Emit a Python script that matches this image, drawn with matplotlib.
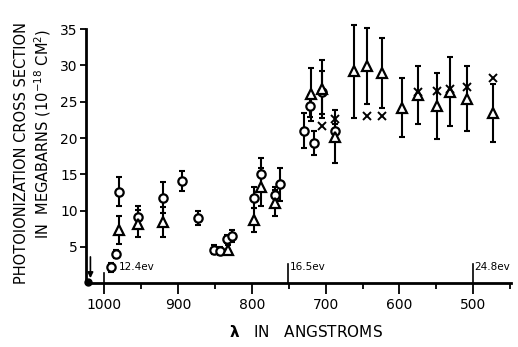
import matplotlib
matplotlib.use("Agg")
import matplotlib.pyplot as plt
from matplotlib.ticker import MultipleLocator

# Circles
circ_lam = [991, 984, 980, 955, 920, 895, 873, 852, 843, 834, 827, 797, 787, 769, 762, 729, 721, 716, 705, 687]
circ_sig = [2.2, 4.0, 12.6, 9.1, 11.8, 14.1, 9.0, 4.6, 4.45, 6.1, 6.5, 11.8, 15.1, 12.1, 13.6, 21.0, 24.4, 19.3, 26.3, 20.9]
circ_err = [0.6, 0.6, 2.0, 1.5, 2.1, 1.4, 1.0, 0.6, 0.6, 0.6, 0.8, 1.5, 2.1, 1.2, 2.3, 2.4, 1.5, 1.6, 3.0, 1.0]

# Triangles
tri_lam = [980, 955, 920, 833, 797, 787, 769, 720, 705, 687, 662, 644, 623, 597, 575, 549, 531, 508, 473]
tri_sig = [7.3, 8.2, 8.4, 4.6, 8.7, 13.2, 11.1, 26.0, 26.8, 20.2, 29.2, 29.9, 29.0, 24.2, 25.9, 24.4, 26.4, 25.4, 23.4]
tri_err = [1.9, 1.9, 2.1, 0.6, 1.7, 2.6, 1.8, 3.7, 4.0, 3.6, 6.4, 5.2, 4.8, 4.0, 4.0, 4.5, 4.7, 4.5, 4.0]

# Crosses
x_lam = [705, 688, 644, 623, 575, 549, 531, 508, 473]
x_sig = [21.7, 22.6, 23.1, 23.1, 26.4, 26.5, 26.7, 27.0, 28.3]

xticks = [1000, 900, 800, 700, 600, 500]
yticks = [5, 10, 15, 20, 25, 30, 35]
ev_lam = [1000, 751, 500]
ev_text = ["12.4ev", "16.5ev", "24.8ev"]
ev_text_lam = [981, 749, 498]

fig = plt.figure(figsize=(5.18, 3.47), dpi=100)
ax = fig.add_axes([0.166, 0.184, 0.820, 0.732])

eb = dict(fmt='none', ecolor='black', elinewidth=1.5, capsize=2.5, capthick=1.5, zorder=2)
for lam, sig, err in [(circ_lam, circ_sig, circ_err), (tri_lam, tri_sig, tri_err)]:
    cont = ax.errorbar(lam, sig, yerr=err, **eb)
    for art in cont.lines[1] + cont.lines[2]:
        art.set_clip_on(False)
ax.plot(circ_lam, circ_sig, 'o', ms=6, mfc='white', mec='black', mew=1.6, ls='none', zorder=3, clip_on=False)
ax.plot(tri_lam, tri_sig, '^', ms=7, mfc='white', mec='black', mew=1.6, ls='none', zorder=4, clip_on=False)
ax.plot(x_lam, x_sig, 'x', ms=5.5, mec='black', mew=1.4, ls='none', zorder=5, clip_on=False)

ax.set_xlim(1025, 449)
ax.set_ylim(0, 35)
for s in ['top', 'right']:
    ax.spines[s].set_visible(False)
for s in ['left', 'bottom']:
    ax.spines[s].set_linewidth(2)
ax.set_xticks(xticks)
ax.xaxis.set_minor_locator(MultipleLocator(50))
ax.set_yticks(yticks)
ax.tick_params(axis='x', which='major', direction='out', length=8, width=1.3, labelsize=10, pad=3)
ax.tick_params(axis='x', which='minor', direction='out', length=4, width=1.3)
ax.tick_params(axis='y', direction='out', length=4, width=1.3, labelsize=10, pad=2)

# eV markers
heights = [1.4, 2.6, 2.6]
for lam, tl, txt, h in zip(ev_lam, ev_text_lam, ev_text, heights):
    ax.plot([lam, lam], [0, h], color='black', lw=1.2, clip_on=False)
    ax.text(tl, 2.2, txt, fontsize=7.5, ha='left', va='center')

# arrow and dot at origin
ax.annotate('', xy=(1019, 0.3), xytext=(1019, 4.0),
            arrowprops=dict(arrowstyle='-|>', color='black', lw=1.2, mutation_scale=8))
ax.plot([1022], [0.1], 'o', color='black', ms=5, clip_on=False, zorder=6)

fig.text(0.59, 0.02, r"$\mathbf{\lambda}$   IN   ANGSTROMS", ha='center', va='bottom', fontsize=11)
fig.text(0.042, 0.56, "PHOTOIONIZATION CROSS SECTION", rotation=90, ha='center', va='center', fontsize=10.5)
fig.text(0.083, 0.615, r"IN  MEGABARNS (10$^{-18}$ CM$^2$)", rotation=90, ha='center', va='center', fontsize=10.5)

fig.savefig("out.png", dpi=100)
